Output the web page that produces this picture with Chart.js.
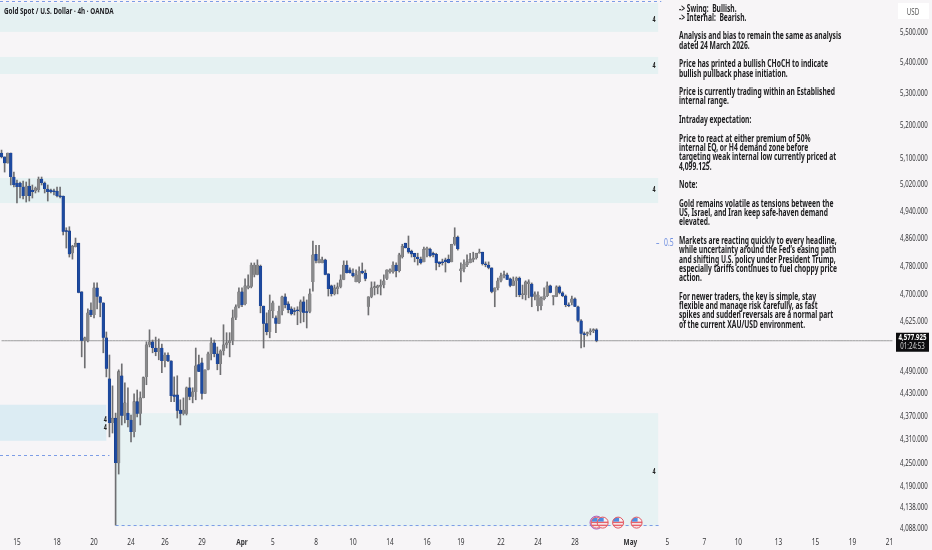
<!DOCTYPE html>
<html><head><meta charset="utf-8">
<script src="https://cdn.jsdelivr.net/npm/chart.js@4"></script>
<style>
html,body{margin:0;padding:0;background:#f7f5f7;overflow:hidden;width:932px;height:550px}
#wrap{position:relative;width:932px;height:550px;filter:blur(.3px)}
canvas{display:block}
#note{position:absolute;left:679px;top:3.5px;font:bold 9.8px/9.3px "Noto Sans",sans-serif;color:#1d1d1f;white-space:pre;transform:scaleX(.685);transform-origin:0 0}
#note div{height:9.3px}
</style></head><body>
<div id="wrap"><canvas id="c" width="932" height="550"></canvas><div id="note"></div></div>
<script>
const opens=[5122,5110,5091,5122,5049,5031,5031,5019,4992,5022,5010,5007,5010,5043,5031,5013,5010,5007,5007,4992,
4992,4889,4889,4824,4842,4853,4714,4578,4578,4663,4649,4725,4700,4683,4586,4475,4358,4371,4255,4483,
4377,4384,4366,4335,4414,4382,4424,4480,4567,4575,4558,4547,4558,4523,4539,4523,4432,4432,4392,4382,
4382,4451,4427,4440,4513,4518,4435,4499,4542,4572,4542,4515,4550,4567,4572,4578,4641,4672,4714,4680,
4725,4728,4762,4762,4787,4674,4625,4602,4660,4641,4625,4660,4700,4680,4666,4660,4663,4658,4686,4658,
4658,4742,4821,4796,4796,4805,4765,4731,4708,4722,4728,4748,4790,4776,4767,4742,4742,4773,4767,4672,
4700,4725,4725,4728,4733,4751,4770,4770,4790,4773,4813,4853,4839,4830,4824,4813,4807,4799,4833,4836,
4824,4821,4799,4799,4805,4807,4799,4850,4871,4773,4779,4790,4796,4805,4810,4824,4827,4793,4790,4782,
4714,4725,4745,4759,4762,4751,4731,4745,4753,4705,4705,4736,4736,4700,4674,4674,4694,4702,4731,4700,
4700,4728,4711,4702,4677,4683,4694,4672,4633,4597,4597,4602,4605,4608];
const highs=[5131,5110,5122,5122,5064,5040,5034,5037,5034,5043,5025,5019,5049,5049,5034,5025,5013,5013,5019,5019,
4992,4898,4901,4847,4868,4853,4714,4588,4666,4683,4739,4739,4700,4683,4602,4539,4456,4384,4499,4515,
4464,4451,4379,4435,4445,4440,4480,4575,4608,4580,4588,4583,4569,4545,4545,4523,4480,4483,4419,4424,
4453,4478,4451,4558,4539,4531,4499,4547,4586,4580,4561,4553,4622,4600,4600,4663,4677,4725,4725,4751,
4762,4796,4796,4805,4790,4674,4655,4705,4688,4647,4674,4702,4708,4686,4672,4669,4672,4691,4700,4691,
4722,4859,4847,4847,4813,4807,4765,4733,4733,4739,4762,4802,4802,4782,4779,4776,4785,4796,4776,4700,
4742,4742,4733,4748,4762,4776,4779,4799,4796,4824,4850,4853,4874,4833,4824,4824,4813,4842,4842,4839,
4827,4824,4799,4807,4810,4819,4850,4898,4874,4796,4805,4819,4824,4827,4824,4836,4827,4799,4799,4782,
4725,4753,4767,4773,4767,4753,4756,4756,4756,4733,4745,4748,4739,4714,4714,4700,4725,4742,4733,4702,
4731,4731,4714,4705,4683,4702,4697,4674,4636,4602,4602,4611,4611,4611];
const lows=[5107,5064,5091,5025,5019,4971,4986,4983,4974,4977,4986,5001,5004,5025,5001,4977,5001,4995,4989,4986,
4877,4839,4813,4807,4842,4711,4534,4504,4575,4644,4641,4666,4644,4545,4480,4322,4332,4100,4227,4353,
4358,4348,4309,4322,4374,4353,4424,4459,4561,4545,4537,4526,4491,4507,4521,4414,4414,4371,4353,4379,
4379,4419,4411,4419,4494,4421,4435,4499,4526,4534,4499,4486,4539,4558,4534,4567,4636,4669,4672,4677,
4722,4725,4756,4762,4655,4558,4594,4586,4641,4600,4625,4649,4669,4655,4649,4649,4622,4627,4630,4613,
4655,4716,4796,4796,4796,4762,4702,4702,4705,4708,4725,4748,4767,4767,4756,4742,4739,4765,4745,4649,
4697,4705,4708,4705,4725,4748,4767,4767,4756,4770,4810,4839,4824,4813,4799,4790,4793,4799,4813,4813,
4813,4776,4785,4790,4770,4796,4799,4847,4833,4742,4770,4785,4796,4799,4807,4824,4790,4785,4779,4711,
4672,4719,4742,4753,4748,4728,4731,4700,4700,4694,4691,4697,4672,4691,4660,4663,4691,4700,4711,4677,
4700,4708,4700,4672,4672,4677,4672,4630,4558,4561,4591,4594,4600,4575];
const closes=[5110,5091,5122,5049,5025,5019,5019,4992,5022,4992,5004,5016,5043,5031,5013,5004,5004,5004,4992,4989,
4886,4886,4821,4844,4853,4711,4578,4586,4655,4649,4725,4700,4683,4586,4502,4358,4371,4255,4494,4377,
4411,4366,4335,4414,4382,4424,4478,4567,4575,4558,4547,4558,4523,4539,4523,4429,4427,4390,4382,4392,
4451,4427,4440,4510,4494,4435,4499,4542,4572,4542,4515,4550,4567,4572,4578,4641,4672,4714,4677,4731,
4731,4790,4790,4790,4674,4625,4602,4663,4683,4625,4660,4700,4677,4663,4652,4658,4660,4686,4655,4655,
4708,4819,4802,4807,4805,4762,4722,4708,4725,4728,4748,4790,4767,4767,4759,4762,4773,4767,4751,4700,
4725,4728,4731,4733,4745,4776,4776,4790,4773,4819,4844,4839,4827,4821,4813,4807,4796,4836,4839,4816,
4819,4796,4793,4796,4799,4796,4850,4871,4836,4779,4793,4799,4807,4810,4824,4827,4793,4790,4782,4714,
4725,4745,4759,4762,4748,4731,4745,4753,4705,4708,4742,4742,4700,4708,4705,4697,4702,4731,4711,4702,
4728,4711,4702,4677,4674,4694,4672,4633,4597,4594,4600,4605,4608,4578];
const xTickLabels={5:'15',18:'18',30:'20',42:'24',53:'26',65:'29',78:'Apr',88:'5',102:'8',114:'10',126:'14',138:'16',149:'19',162:'22',174:'24',186:'28',204:'May',216:'5',228:'7',239:'10',252:'13',264:'15',276:'19',288:'21'};
const yTicks=[5500,5400,5300,5200,5100,5020,4940,4860,4780,4700,4625,4490,4430,4370,4310,4250,4190,4138,4088];
const lastPrice=4577.925;
const categoryCount=290;
const categories=Array.from({length:categoryCount},(_,i)=>i);
const zones=[[0,213,5603,5507,'#e5f1f2'],[0,213,5425,5370,'#e5f1f2'],[0,213,5046,4971,'#e5f1f2'],[0,34,4406,4312,'#dcecf3'],[37,213,4384,4097,'#e7f2f3']];
const dashedLevels=[[0,214,5610],[0,35,4276],[37,214,4099.125]];
const zoneMarks=[[212,5547,'4'],[212,5395,'4'],[212,5010,'4'],[212,4232,'4'],[34,4366,'4'],[34,4345,'4']];
const eventIndices=[193,195,200,206];
const noteLines=["-> Swing:  Bullish.","-> Internal:  Bearish.","","Analysis and bias to remain the same as analysis","dated 24 March 2026.","","Price has printed a bullish CHoCH to indicate","bullish pullback phase initiation.","","Price is currently trading within an Established","internal range.","","Intraday expectation:","","Price to react at either premium of 50%","internal EQ, or H4 demand zone before","targeting weak internal low currently priced at","4,099.125.","","Note:","","Gold remains volatile as tensions between the","US, Israel, and Iran keep safe-haven demand","elevated.","","Markets are reacting quickly to every headline,","while uncertainty around the Fed\u2019s easing path","and shifting U.S. policy under President Trump,","especially tariffs continues to fuel choppy price","action.","","For newer traders, the key is simple, stay","flexible and manage risk carefully, as fast","spikes and sudden reversals are a normal part","of the current XAU/USD environment."];
document.getElementById('note').innerHTML=noteLines.map(l=>'<div>'+(l||'&nbsp;')+'</div>').join('');
const FONT='"Noto Sans",sans-serif';
const UP='#8a8a8c',DOWN='#1d4aa0';
const isUp=opens.map((o,i)=>closes[i]>=o);
const canvas=document.getElementById('c');
const ctx2d=canvas.getContext('2d');
// The reference's text is horizontally condensed.
const baseFillText=ctx2d.fillText;
ctx2d.fillText=function(t,x,y){this.save();this.translate(x,y);this.scale(.68,1);baseFillText.call(this,t,0,0);this.restore();};
const overlay={id:'overlay',
 beforeDatasetsDraw(ch){const c=ch.ctx,x=ch.scales.x,y=ch.scales.y;c.save();
  zones.forEach(z=>{const l=z[0]===0?0:x.getPixelForValue(z[0]);const r=x.getPixelForValue(z[1]);const t=y.getPixelForValue(z[2]);const b=y.getPixelForValue(z[3]);c.fillStyle=z[4];c.fillRect(l,t,r-l,b-t);});
  c.strokeStyle='#7d9de6';c.lineWidth=1;c.setLineDash([3,3]);
  dashedLevels.forEach(d=>{const v=Math.round(y.getPixelForValue(d[2]))+.5;c.beginPath();c.moveTo(d[0]===0?0:x.getPixelForValue(d[0]),v);c.lineTo(x.getPixelForValue(d[1]),v);c.stroke();});
  c.setLineDash([]);c.restore();},
 afterDatasetsDraw(ch){const c=ch.ctx,x=ch.scales.x,y=ch.scales.y;c.save();
  c.textBaseline='middle';c.font='bold 8px '+FONT;c.fillStyle='#222';c.textAlign='center';
  zoneMarks.forEach(m=>c.fillText(m[2],x.getPixelForValue(m[0])-1,y.getPixelForValue(m[1])));
  const fy=y.getPixelForValue(4106);
  eventIndices.forEach((e,n)=>{const fx=x.getPixelForValue(e);
   if(n===0){c.beginPath();c.arc(fx,fy,6.5,0,7);c.strokeStyle='#a765c9';c.lineWidth=1;c.stroke();}
   c.save();c.beginPath();c.arc(fx,fy,5.5,0,7);c.clip();c.fillStyle='#f7f3f5';c.fillRect(fx-6,fy-6,12,12);
   c.fillStyle='#e8636b';c.fillRect(fx-6,fy-1,12,1.5);c.fillRect(fx-6,fy+2,12,1.5);
   c.fillStyle='#4f8de0';c.fillRect(fx-5,fy-5,6,4);c.restore();
   c.beginPath();c.arc(fx,fy,5.5,0,7);c.strokeStyle='#e2555f';c.lineWidth=1;c.stroke();});
  c.textAlign='left';c.font='10px '+FONT;c.fillStyle='#6f8fe0';
  c.fillText('\u2013',656,y.getPixelForValue(4853));c.fillText('0.5',664,y.getPixelForValue(4853));
  c.fillStyle='#222226';c.font='bold 9.3px '+FONT;c.fillText('Gold Spot / U.S. Dollar \u00b7 4h \u00b7 OANDA',4,11);
  c.fillStyle='#ffffff';c.fillRect(898,3,31,16);c.fillStyle='#555';c.font='9px '+FONT;c.textAlign='center';c.fillText('USD',913,12);
  const py=y.getPixelForValue(lastPrice);
  c.fillStyle='#0c0c0e';c.fillRect(896,py-8,33,19);c.fillStyle='#fff';c.textAlign='center';c.font='bold 9px '+FONT;c.fillText('4,577.925',912.5,py-3);
  c.font='9px '+FONT;c.fillStyle='#d8d8d8';c.fillText('01:24:53',912.5,py+6);
  c.restore();}
};
new Chart(canvas,{
 data:{labels:categories,datasets:[
  {type:'line',data:categories.map(()=>lastPrice),borderColor:'#9d9d9f',borderWidth:1,pointRadius:0,order:3,spanGaps:true},
  {type:'bar',data:lows.map((l,i)=>[l,highs[i]]),backgroundColor:'#6f6f72',barThickness:1,grouped:false,order:2,borderWidth:0},
  {type:'bar',data:opens.map((o,i)=>[o,closes[i]]),backgroundColor:isUp.map(u=>u?UP:DOWN),borderColor:isUp.map(u=>u?'#5d5d60':'#12327a'),borderWidth:0.4,barThickness:2.7,grouped:false,order:1,minBarLength:1.2}
 ]},
 plugins:[overlay],
 options:{responsive:false,animation:false,devicePixelRatio:1,
  layout:{padding:0},
  plugins:{legend:{display:false},tooltip:{enabled:false},title:{display:false}},
  scales:{
   x:{type:'category',offset:true,grid:{display:false,drawTicks:false},border:{display:false},
    afterFit(s){s.height=18;s.paddingLeft=0;s.paddingRight=0;},
    ticks:{autoSkip:false,maxRotation:0,minRotation:0,padding:5,color:'#333336',
     font(ctx){const l=xTickLabels[ctx.index];return {family:FONT,size:9.5,weight:(l==='Apr'||l==='May')?'bold':'normal'};},
     callback(v,i){return xTickLabels[i]||'';}}},
   y:{type:'logarithmic',position:'right',min:4083,max:5613,grid:{display:false,drawTicks:false},border:{display:false},
    afterBuildTicks(s){s.ticks=yTicks.map(v=>({value:v}));},
    afterFit(s){s.width=38;s.paddingTop=0;s.paddingBottom=0;},
    ticks:{autoSkip:false,padding:6,labelOffset:-2,color:'#333336',font:{family:FONT,size:9},
     callback(v){return Number(v).toLocaleString('en-US',{minimumFractionDigits:3,maximumFractionDigits:3});}}}
  }}
});
</script></body></html>
